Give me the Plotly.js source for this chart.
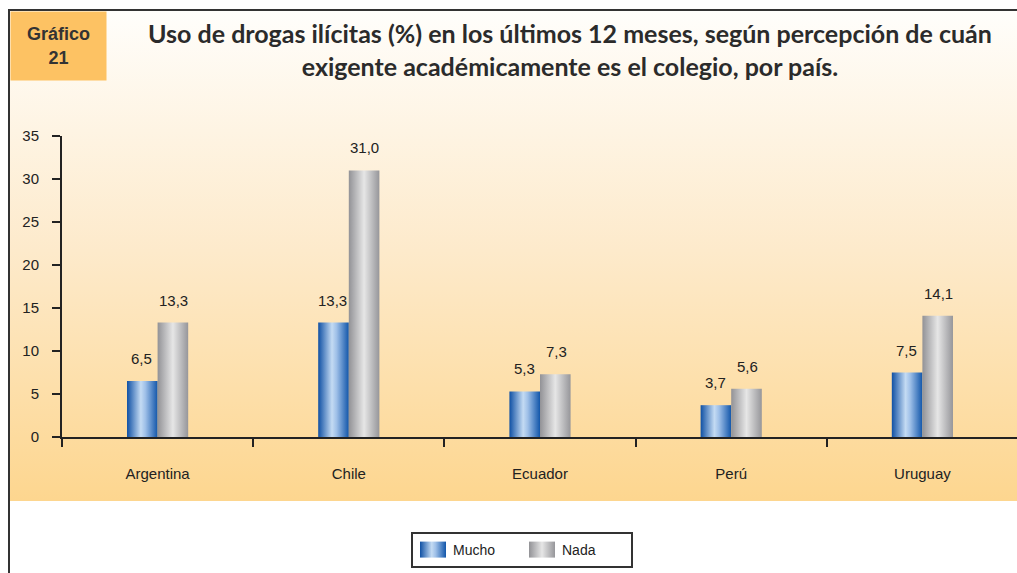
<!DOCTYPE html>
<html>
<head>
<meta charset="utf-8">
<script src="https://cdn.plot.ly/plotly-3.0.1.min.js"></script>
<style>
  html, body { margin: 0; padding: 0; width: 1017px; height: 573px; overflow: hidden; background: #ffffff; }
  #frame {
    position: absolute; left: 8px; top: 9px; width: 1100px; height: 600px;
    border-left: 2px solid #333; border-top: 2px solid #333;
    background: linear-gradient(to bottom, #fffefb 0px, #fdeacb 240px, #fdd68f 490px, #ffffff 490px, #ffffff 600px);
  }
  #chart { position: absolute; left: 0; top: 0; }
</style>
</head>
<body>
<div id="frame"></div>
<div id="chart"></div>
<script>
// ---- data ----
const countries = ["Argentina", "Chile", "Ecuador", "Perú", "Uruguay"];
const mucho = [6.5, 13.3, 5.3, 3.7, 7.5];
const nada = [13.3, 31.0, 7.3, 5.6, 14.1];
const seriesNames = ["Mucho", "Nada"];
const yTicks = [0, 5, 10, 15, 20, 25, 30, 35];

const W = 1040, H = 573;
const mL = 62, mT = 136, mB = 136, mR = W - 1018;
const plotW = W - mL - mR, plotH = H - mT - mB;
const FONT = 'Liberation Sans, Arial, sans-serif';

const fmt = v => v.toFixed(1).replace('.', ',');

const traces = [
  { type: 'bar', name: seriesNames[0], x: countries, y: mucho,
    marker: { color: '#2a66b4', line: { width: 0 } }, hoverinfo: 'none' },
  { type: 'bar', name: seriesNames[1], x: countries, y: nada,
    marker: { color: '#b4b4b6', line: { width: 0 } }, hoverinfo: 'none' }
];

const annotations = [];
[mucho, nada].forEach((arr, si) => {
  arr.forEach((v, i) => {
    annotations.push({
      x: countries[i], y: v, xref: 'x', yref: 'y',
      text: fmt(v), showarrow: false, yanchor: 'bottom',
      xshift: si === 0 ? -16 : 16, yshift: 12,
      font: { family: FONT, size: 15, color: '#222' }
    });
  });
});

// "Gráfico 21" box
annotations.push({
  xref: 'paper', yref: 'paper',
  x: (58.5 - mL) / plotW, y: (H - mB - 46) / plotH,
  xanchor: 'center', yanchor: 'middle',
  text: '<b>Gráfico</b><br><b>21</b>', showarrow: false,
  width: 95, height: 68, bgcolor: '#fdc263', borderpad: 0,
  font: { family: FONT, size: 18, color: '#333' }
});

const layout = {
  width: W, height: H,
  margin: { l: mL, r: mR, t: mT, b: mB, autoexpand: false },
  paper_bgcolor: 'rgba(0,0,0,0)', plot_bgcolor: 'rgba(0,0,0,0)',
  separators: ',.',
  barmode: 'group', bargap: 0.68, bargroupgap: 0,
  title: {
    text: '<b>Uso de drogas ilícitas (%) en los últimos 12 meses, según percepción de cuán</b><br><b>exigente académicamente es el colegio, por país.</b>',
    xref: 'container', yref: 'container', x: 570 / W, xanchor: 'center',
    y: 1 - 43 / H, yanchor: 'middle',
    font: { family: 'Lato, Open Sans, sans-serif', size: 25, color: '#2b2b2b' }
  },
  xaxis: {
    type: 'category', range: [-0.5, 4.5], fixedrange: true,
    showline: true, linecolor: '#222', linewidth: 2,
    ticks: 'outside', tickson: 'boundaries', ticklen: 8, tickwidth: 2, tickcolor: '#222',
    ticklabelstandoff: 22, showgrid: false, zeroline: false,
    tickfont: { family: FONT, size: 15, color: '#222' }
  },
  yaxis: {
    range: [0, 35], tickvals: yTicks, ticktext: yTicks.map(String), fixedrange: true,
    showline: true, linecolor: '#222', linewidth: 2,
    ticks: 'outside', ticklen: 8, tickwidth: 2, tickcolor: '#222',
    ticklabelstandoff: 10, showgrid: false, zeroline: false,
    tickfont: { family: FONT, size: 15, color: '#222' }
  },
  showlegend: true,
  legend: {
    orientation: 'h', xref: 'paper', yref: 'paper',
    x: (522 - mL) / plotW, xanchor: 'center',
    y: (H - mB - 532) / plotH, yanchor: 'top',
    bgcolor: '#ffffff', bordercolor: '#333', borderwidth: 2,
    entrywidth: 64, itemwidth: 30,
    font: { family: FONT, size: 14, color: '#222' }
  },
  annotations: annotations
};

function addGradients() {
  const svg = document.querySelector('#chart .main-svg');
  if (!svg) return;
  let defs = svg.querySelector('defs');
  if (!defs) { defs = document.createElementNS('http://www.w3.org/2000/svg', 'defs'); svg.insertBefore(defs, svg.firstChild); }
  const grads = [
    { id: 'gMucho', stops: [[0, '#0f50a4'], [0.45, '#c4dbf3'], [0.6, '#9fc0e8'], [1, '#1256aa']] },
    { id: 'gNada', stops: [[0, '#929296'], [0.5, '#e6e6e6'], [1, '#96969a']] }
  ];
  grads.forEach(g => {
    const lg = document.createElementNS('http://www.w3.org/2000/svg', 'linearGradient');
    lg.setAttribute('id', g.id);
    lg.setAttribute('x1', '0'); lg.setAttribute('y1', '0');
    lg.setAttribute('x2', '1'); lg.setAttribute('y2', '0');
    g.stops.forEach(s => {
      const st = document.createElementNS('http://www.w3.org/2000/svg', 'stop');
      st.setAttribute('offset', s[0]);
      st.setAttribute('stop-color', s[1]);
      lg.appendChild(st);
    });
    defs.appendChild(lg);
  });
  const ids = ['gMucho', 'gNada'];
  document.querySelectorAll('#chart .barlayer .trace').forEach((tr, i) => {
    tr.querySelectorAll('path').forEach(p => { p.style.fill = 'url(#' + ids[i] + ')'; });
  });
  document.querySelectorAll('#chart .legend .traces').forEach((tr, i) => {
    tr.querySelectorAll('.legendpoints path').forEach(p => {
      p.setAttribute('d', 'M13,8H-13V-8H13Z');
      p.style.fill = 'url(#' + ids[i] + ')';
      p.style.stroke = 'none';
    });
  });
}

Plotly.newPlot('chart', traces, layout, { staticPlot: true, displayModeBar: false }).then(addGradients);
</script>
</body>
</html>
